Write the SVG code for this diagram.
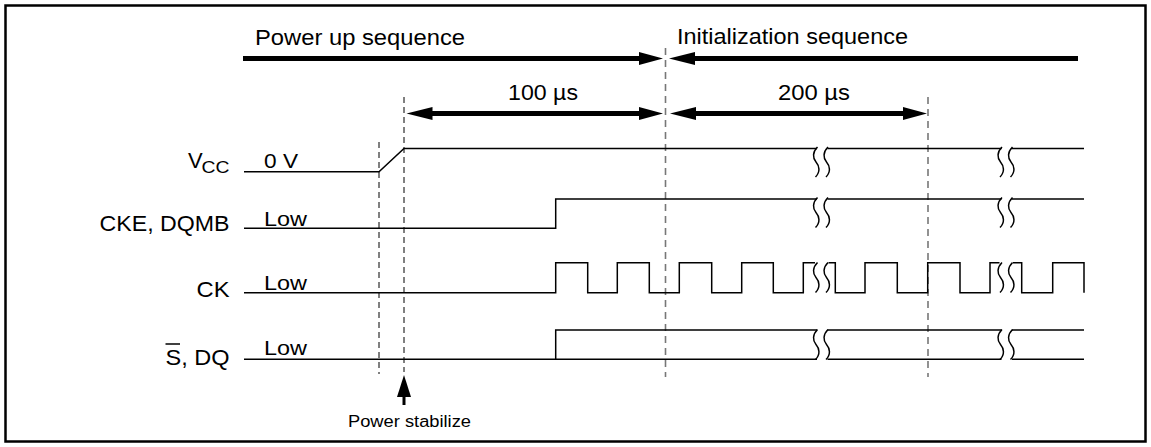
<svg xmlns="http://www.w3.org/2000/svg" width="1151" height="447" viewBox="0 0 1151 447">
<style>
  text { font-family: "Liberation Sans", Arial, sans-serif; fill: #000; }
  .lbl { font-size: 22px; }
  .val { font-size: 20px; }
  .sig { fill: none; stroke: #000; stroke-width: 1.5; }
  .bar { fill: none; stroke: #000; stroke-width: 5; }
  .head { fill: #000; stroke: none; }
  .dk { fill: none; stroke: #000; stroke-width: 1; stroke-dasharray: 6 4; }
  .dg { fill: none; stroke: #777; stroke-width: 1.6; stroke-dasharray: 7 5; }
  .sq { fill: none; stroke: #000; stroke-width: 1.5; }
</style>
<defs>
  <path id="squig" d="M1.5,0 C-3.5,5 -3.5,11 0,15 C3.5,19 4.5,25 -0.5,30" class="sq"/>
</defs>
<rect x="5.5" y="5.5" width="1140" height="436" fill="#fff" stroke="#000" stroke-width="2.5"/>

<g id="sequences">
  <text x="255" y="45" class="lbl" textLength="210" lengthAdjust="spacingAndGlyphs">Power up sequence</text>
  <text x="677" y="44" class="lbl" textLength="231" lengthAdjust="spacingAndGlyphs">Initialization sequence</text>
  <text x="508" y="100" class="lbl" textLength="70" lengthAdjust="spacingAndGlyphs">100 µs</text>
  <text x="778" y="100" class="lbl" textLength="72" lengthAdjust="spacingAndGlyphs">200 µs</text>
</g>

<g id="connectors">
  <line x1="379" y1="142" x2="379" y2="374" class="dk"/>
  <line x1="404" y1="97" x2="404" y2="372" class="dk"/>
  <line x1="665.5" y1="48" x2="665.5" y2="377" class="dg"/>
  <line x1="928" y1="97" x2="928" y2="377" class="dg"/>
  <line x1="243" y1="58.5" x2="641" y2="58.5" class="bar"/>
  <polygon points="663,58.5 639,52 639,65" class="head"/>
  <polygon points="669,58.5 695,52 695,65" class="head"/>
  <line x1="693" y1="58.5" x2="1078" y2="58.5" class="bar"/>
  <polygon points="406.5,113.5 432.5,107 432.5,120" class="head"/>
  <line x1="430" y1="113.5" x2="641" y2="113.5" class="bar"/>
  <polygon points="663,113.5 639,107 639,120" class="head"/>
  <polygon points="670,113.5 696,107 696,120" class="head"/>
  <line x1="694" y1="113.5" x2="905" y2="113.5" class="bar"/>
  <polygon points="927,113.5 903,107 903,120" class="head"/>
  <polygon points="404,375 397,397 411,397" class="head"/>
  <line x1="404" y1="395" x2="404" y2="405" stroke="#000" stroke-width="3"/>
</g>

<g id="vcc">
  <text x="188" y="167.5" class="lbl">V</text>
  <text x="201.5" y="172.5" font-size="17" textLength="28" lengthAdjust="spacingAndGlyphs">CC</text>
  <text x="264" y="167.5" class="val" textLength="34" lengthAdjust="spacingAndGlyphs">0 V</text>
  <path d="M244,171.7 H379 L404,148.5 H817" class="sig"/>
  <path d="M827.5,148.5 H1001.5" class="sig"/>
  <path d="M1012,148.5 H1084" class="sig"/>
  <use href="#squig" x="816" y="147"/>
  <use href="#squig" x="826.5" y="147"/>
  <use href="#squig" x="1000.5" y="147"/>
  <use href="#squig" x="1011" y="147"/>
</g>

<g id="cke">
  <text x="229.5" y="231" class="lbl" text-anchor="end" textLength="130" lengthAdjust="spacingAndGlyphs">CKE, DQMB</text>
  <text x="264" y="226" class="val" textLength="43" lengthAdjust="spacingAndGlyphs">Low</text>
  <path d="M244,228.3 H555.7 V199 H817" class="sig"/>
  <path d="M827.5,199 H1001.5" class="sig"/>
  <path d="M1012,199 H1084" class="sig"/>
  <use href="#squig" x="816" y="197.5"/>
  <use href="#squig" x="826.5" y="197.5"/>
  <use href="#squig" x="1000.5" y="197.5"/>
  <use href="#squig" x="1011" y="197.5"/>
</g>

<g id="ck">
  <text x="229.5" y="296.5" class="lbl" text-anchor="end" textLength="33" lengthAdjust="spacingAndGlyphs">CK</text>
  <text x="264" y="289.5" class="val" textLength="43" lengthAdjust="spacingAndGlyphs">Low</text>
  <path d="M244,292.7 H555.7 V262.7 H587.7 V292.7 H617.3 V262.7 H649.3 V292.7 H679.3 V262.7 H711.7 V292.7 H741.7 V262.7 H773.3 V292.7 H803.3 V262.7 H815" class="sig"/>
  <path d="M828.5,262.7 H835.3 V292.7 H865 V262.7 H897.3 V292.7 H927.7 V262.7 H960 V292.7 H990 V262.7 H999.5" class="sig"/>
  <path d="M1013,262.7 H1021.7 V292.7 H1052.7 V262.7 H1084 V292.7" class="sig"/>
  <use href="#squig" x="816" y="262.5"/>
  <use href="#squig" x="826.5" y="262.5"/>
  <use href="#squig" x="1000.5" y="262.5"/>
  <use href="#squig" x="1011" y="262.5"/>
</g>

<g id="sdq">
  <text x="229.5" y="364.5" class="lbl" text-anchor="end" textLength="64" lengthAdjust="spacingAndGlyphs">S, DQ</text>
  <line x1="165.5" y1="344" x2="180" y2="344" stroke="#000" stroke-width="1.5"/>
  <text x="264" y="355" class="val" textLength="43" lengthAdjust="spacingAndGlyphs">Low</text>
  <path d="M244,359.3 H555.7 V330 H817" class="sig"/>
  <path d="M555.7,359.3 H817" class="sig"/>
  <path d="M827.5,330 H1001.5 M827.5,359.3 H1001.5" class="sig"/>
  <path d="M1012,330 H1084 M1012,359.3 H1084" class="sig"/>
  <use href="#squig" x="816" y="329.5"/>
  <use href="#squig" x="826.5" y="329.5"/>
  <use href="#squig" x="1000.5" y="329.5"/>
  <use href="#squig" x="1011" y="329.5"/>
</g>

<g id="power-stabilize">
  <text x="348" y="426.5" font-size="16" textLength="123" lengthAdjust="spacingAndGlyphs">Power stabilize</text>
</g>
</svg>
